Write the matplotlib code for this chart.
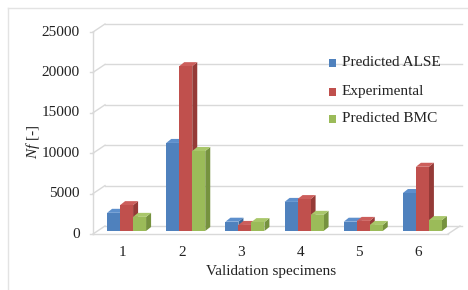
import matplotlib
matplotlib.use("Agg")
import matplotlib.pyplot as plt
from matplotlib.patches import Polygon, Rectangle
from matplotlib.lines import Line2D
import numpy as np

categories = ["1", "2", "3", "4", "5", "6"]
series_names = ["Predicted ALSE", "Experimental", "Predicted BMC"]
alse = [2250, 10900, 1150, 3600, 1150, 4700]
experimental = [3200, 20400, 750, 3950, 1250, 7950]
bmc = [1750, 9900, 1100, 2000, 750, 1350]
yticks = [0, 5000, 10000, 15000, 20000, 25000]

front_cols = ["#4F81BD", "#C0504D", "#9BBB59"]
side_cols = ["#3A6596", "#953A37", "#76923F"]
top_cols = ["#5D8FCC", "#CC5E5B", "#A9C76A"]

plt.rcParams['font.family'] = ['Liberation Serif', 'DejaVu Serif']
plt.rcParams['mathtext.fontset'] = 'custom'
plt.rcParams['mathtext.it'] = 'Liberation Serif:italic'
plt.rcParams['mathtext.rm'] = 'Liberation Serif'

FS = 11
W, H = 468, 290
fig = plt.figure(figsize=(W / 100, H / 100), dpi=100)

x0p, x1p = 93, 448
y0p, y1p = 234, 32
ax = fig.add_axes([x0p / W, (H - y0p) / H, (x1p - x0p) / W, (y0p - y1p) / H])
ax.set_xlim(0.5, 6.5)
ax.set_ylim(0, 25000)
ax.axis('off')

pxx = (x1p - x0p) / 6.0        # px per x unit
pxy = (y0p - y1p) / 25000.0    # px per y unit
def dx(p):
    return p / pxx
def dy(p):
    return p / pxy

grid_c = "#D9D9D9"
# wall offset
wx, wy = dx(12), dy(8)
# back wall gridlines and left wall diagonals
for t in yticks:
    ax.add_line(Line2D([0.5 + wx, 6.5 + wx + dx(2)], [t + wy, t + wy], color=grid_c, lw=1.0, clip_on=False, zorder=1))
    ax.add_line(Line2D([0.5, 0.5 + wx], [t, t + wy], color=grid_c, lw=1.0, clip_on=False, zorder=1))
    ax.add_line(Line2D([0.5 - dx(3), 0.5], [t, t], color=grid_c, lw=1.0, clip_on=False, zorder=1))
    ax.text(0.5 - dx(13), t, f"{t}", ha='right', va='center', fontsize=FS, color="#222222")
# left axis line
ax.add_line(Line2D([0.5, 0.5], [0, 25000], color=grid_c, lw=1.0, clip_on=False, zorder=1))
# floor
ax.add_line(Line2D([0.5, 6.5], [0, 0], color=grid_c, lw=1.0, clip_on=False, zorder=1))
ax.add_line(Line2D([6.5, 6.5 + wx], [0, wy], color=grid_c, lw=1.0, clip_on=False, zorder=1))

# bars
bw = dx(13)
boffx, boffy = dx(4), dy(3)
ddx, ddy = dx(5), dy(4)
xs = np.arange(1, 7)
data = [alse, experimental, bmc]
for i, vals in enumerate(data):
    lefts = xs - 1.5 * bw + i * bw + boffx
    for xl, v in zip(lefts, vals):
        xr = xl + bw
        yb = boffy
        yt = boffy + v
        side = Polygon([(xr, yb), (xr + ddx, yb + ddy), (xr + ddx, yt + ddy), (xr, yt)],
                       closed=True, facecolor=side_cols[i], edgecolor='none', zorder=3 + i, clip_on=False)
        top = Polygon([(xl, yt), (xr, yt), (xr + ddx, yt + ddy), (xl + ddx, yt + ddy)],
                      closed=True, facecolor=top_cols[i], edgecolor='none', zorder=3 + i, clip_on=False)
        ax.add_patch(side)
        ax.add_patch(top)
    ax.bar(lefts, np.array(vals), width=bw, bottom=boffy, align='edge', color=front_cols[i],
           zorder=3 + i, clip_on=False, label=series_names[i])

for xc, c in zip(xs, categories):
    ax.text(xc, -dy(19), c, ha='center', va='center', fontsize=FS, color="#222222")

fig.text(271 / W, 1 - 272 / H, "Validation specimens", ha='center', va='center', fontsize=FS, color="#222222")
fig.text(33 / W, 1 - 142 / H, r"$\mathit{Nf}$ [-]", ha='center', va='center', rotation=90, fontsize=FS, color="#222222")

# legend
leg_y = [63, 92, 119]
for i, name in enumerate(series_names):
    fig.patches.append(Rectangle((329 / W, 1 - (leg_y[i] + 3.5) / H), 7 / W, 7 / H,
                                 transform=fig.transFigure, facecolor=front_cols[i], edgecolor='none', zorder=10))
    fig.text(342 / W, 1 - leg_y[i] / H, name, ha='left', va='center', fontsize=FS, color="#222222", zorder=10)

# outer frame (top and left visible)
fig.add_artist(Line2D([8 / W, 1.0], [1 - 8 / H, 1 - 8 / H], color="#E3E3E3", lw=1.0, transform=fig.transFigure))
fig.add_artist(Line2D([8 / W, 8 / W], [0, 1 - 8 / H], color="#E3E3E3", lw=1.0, transform=fig.transFigure))

fig.savefig("out.png", dpi=100, facecolor="white")
